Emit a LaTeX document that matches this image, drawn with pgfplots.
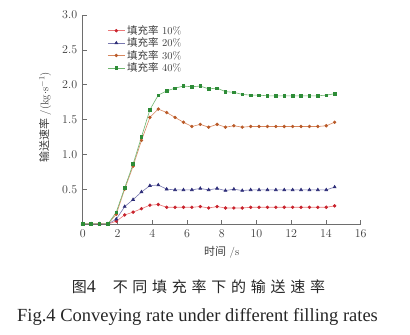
\documentclass[border=0pt]{standalone}
\usepackage{fontspec}
\usepackage{pgfplots}
\pgfplotsset{compat=1.18}
\newfontfamily\cjk{Noto Sans CJK SC}
\newfontfamily\tnr{Liberation Serif}
\definecolor{mred}{RGB}{200,35,45}
\definecolor{lred}{RGB}{235,120,120}
\definecolor{mblue}{RGB}{45,45,120}
\definecolor{lblue}{RGB}{120,120,175}
\definecolor{morange}{RGB}{185,90,40}
\definecolor{lorange}{RGB}{215,135,95}
\definecolor{mgreen}{RGB}{45,140,55}
\definecolor{lgreen}{RGB}{110,180,110}
\definecolor{axgray}{RGB}{110,110,110}
\definecolor{txtgray}{RGB}{60,60,60}
\begin{document}
\begin{tikzpicture}
\path[use as bounding box] (0,0) rectangle (410bp,335bp);
\begin{axis}[
  at={(82.7bp,111bp)}, anchor=south west,
  scale only axis, width=278bp, height=209bp,
  xmin=0, xmax=16, ymin=0, ymax=3,
  axis x line=bottom, axis y line=left,
  axis line style={axgray, line width=0.5pt, -},
  tick align=inside, major tick length=4bp,
  tick style={axgray, line width=0.5pt},
  xtick={0,2,...,16},
  ytick={0.5,1,1.5,2,2.5,3},
  yticklabel style={/pgf/number format/fixed, /pgf/number format/precision=1, /pgf/number format/fixed zerofill, xshift=-2bp},
  xticklabel style={yshift=-2bp},
  ticklabel style={font=\fontsize{11.5bp}{13bp}\selectfont, text=txtgray},
  xlabel={{\cjk 时间} /s},
  xlabel style={at={(axis description cs:0.5,-0.134)}, anchor=center, font=\fontsize{11bp}{13bp}\selectfont, text=txtgray},
  ylabel={{\cjk 输送速率} /(kg$\cdot$s$^{-1}$)},
  ylabel style={at={(axis description cs:-0.135,0.51)}, anchor=center, rotate=0, font=\fontsize{11bp}{13bp}\selectfont, text=txtgray},
  legend style={draw=none, fill=none, at={(0.085,0.965)}, anchor=north west, font=\fontsize{10.5bp}{10.5bp}\selectfont, text=txtgray, row sep=-2bp, inner sep=1pt},
  legend cell align=left,
  every axis plot/.append style={line width=0.6pt},
]
\addplot[lred, mark=*, mark size=1.4pt, mark options={mred, fill=mred}] coordinates {
(0,0) (0.483,0) (0.967,0) (1.450,0) (1.933,0.04) (2.417,0.13) (2.900,0.17) (3.383,0.22) (3.867,0.27) (4.350,0.28) (4.833,0.24) (5.317,0.24) (5.800,0.24) (6.283,0.24) (6.767,0.25) (7.250,0.23) (7.733,0.25) (8.217,0.23) (8.700,0.23) (9.183,0.23) (9.667,0.24) (10.150,0.24) (10.633,0.24) (11.117,0.24) (11.600,0.24) (12.083,0.24) (12.567,0.24) (13.050,0.24) (13.533,0.24) (14.017,0.24) (14.500,0.26)};
\addlegendentry{{\cjk 填充率} 10\%}
\addplot[lblue, mark=triangle*, mark size=1.7pt, mark options={mblue, fill=mblue}] coordinates {
(0,0) (0.483,0) (0.967,0) (1.450,0) (1.933,0.07) (2.417,0.25) (2.900,0.35) (3.383,0.46) (3.867,0.55) (4.350,0.56) (4.833,0.50) (5.317,0.49) (5.800,0.49) (6.283,0.49) (6.767,0.51) (7.250,0.49) (7.733,0.51) (8.217,0.48) (8.700,0.50) (9.183,0.48) (9.667,0.49) (10.150,0.49) (10.633,0.49) (11.117,0.49) (11.600,0.49) (12.083,0.49) (12.567,0.49) (13.050,0.49) (13.533,0.49) (14.017,0.49) (14.500,0.53)};
\addlegendentry{{\cjk 填充率} 20\%}
\addplot[lorange, mark=*, mark size=1.4pt, mark options={morange, fill=morange}] coordinates {
(0,0) (0.483,0) (0.967,0) (1.450,0) (1.933,0.14) (2.417,0.50) (2.900,0.83) (3.383,1.20) (3.867,1.53) (4.350,1.65) (4.833,1.60) (5.317,1.53) (5.800,1.46) (6.283,1.40) (6.767,1.43) (7.250,1.39) (7.733,1.43) (8.217,1.39) (8.700,1.41) (9.183,1.39) (9.667,1.40) (10.150,1.40) (10.633,1.40) (11.117,1.40) (11.600,1.40) (12.083,1.40) (12.567,1.40) (13.050,1.40) (13.533,1.40) (14.017,1.41) (14.500,1.46)};
\addlegendentry{{\cjk 填充率} 30\%}
\addplot[lgreen, mark=square*, mark size=1.3pt, mark options={mgreen, fill=mgreen}] coordinates {
(0,0) (0.483,0) (0.967,0) (1.450,0) (1.933,0.17) (2.417,0.52) (2.900,0.86) (3.383,1.25) (3.867,1.64) (4.350,1.85) (4.833,1.91) (5.317,1.95) (5.800,1.98) (6.283,1.97) (6.767,1.98) (7.250,1.94) (7.733,1.95) (8.217,1.90) (8.700,1.89) (9.183,1.86) (9.667,1.85) (10.150,1.85) (10.633,1.84) (11.117,1.84) (11.600,1.84) (12.083,1.84) (12.567,1.84) (13.050,1.84) (13.533,1.84) (14.017,1.85) (14.500,1.87)};
\addlegendentry{{\cjk 填充率} 40\%}
\end{axis}
\def\ks{\kern4.75bp}
\node[font=\cjk\fontsize{15bp}{17bp}\selectfont, text=black!85] at (198.5bp,48bp) {图{\tnr\fontsize{18bp}{18bp}\selectfont 4}\kern17bp 不\ks 同\ks 填\ks 充\ks 率\ks 下\ks 的\ks 输\ks 送\ks 速\ks 率};
\node[font=\tnr\fontsize{18.5bp}{20bp}\selectfont, text=black!85] at (197.5bp,18bp) {Fig.4 Conveying rate under different filling rates};
\end{tikzpicture}
\end{document}
